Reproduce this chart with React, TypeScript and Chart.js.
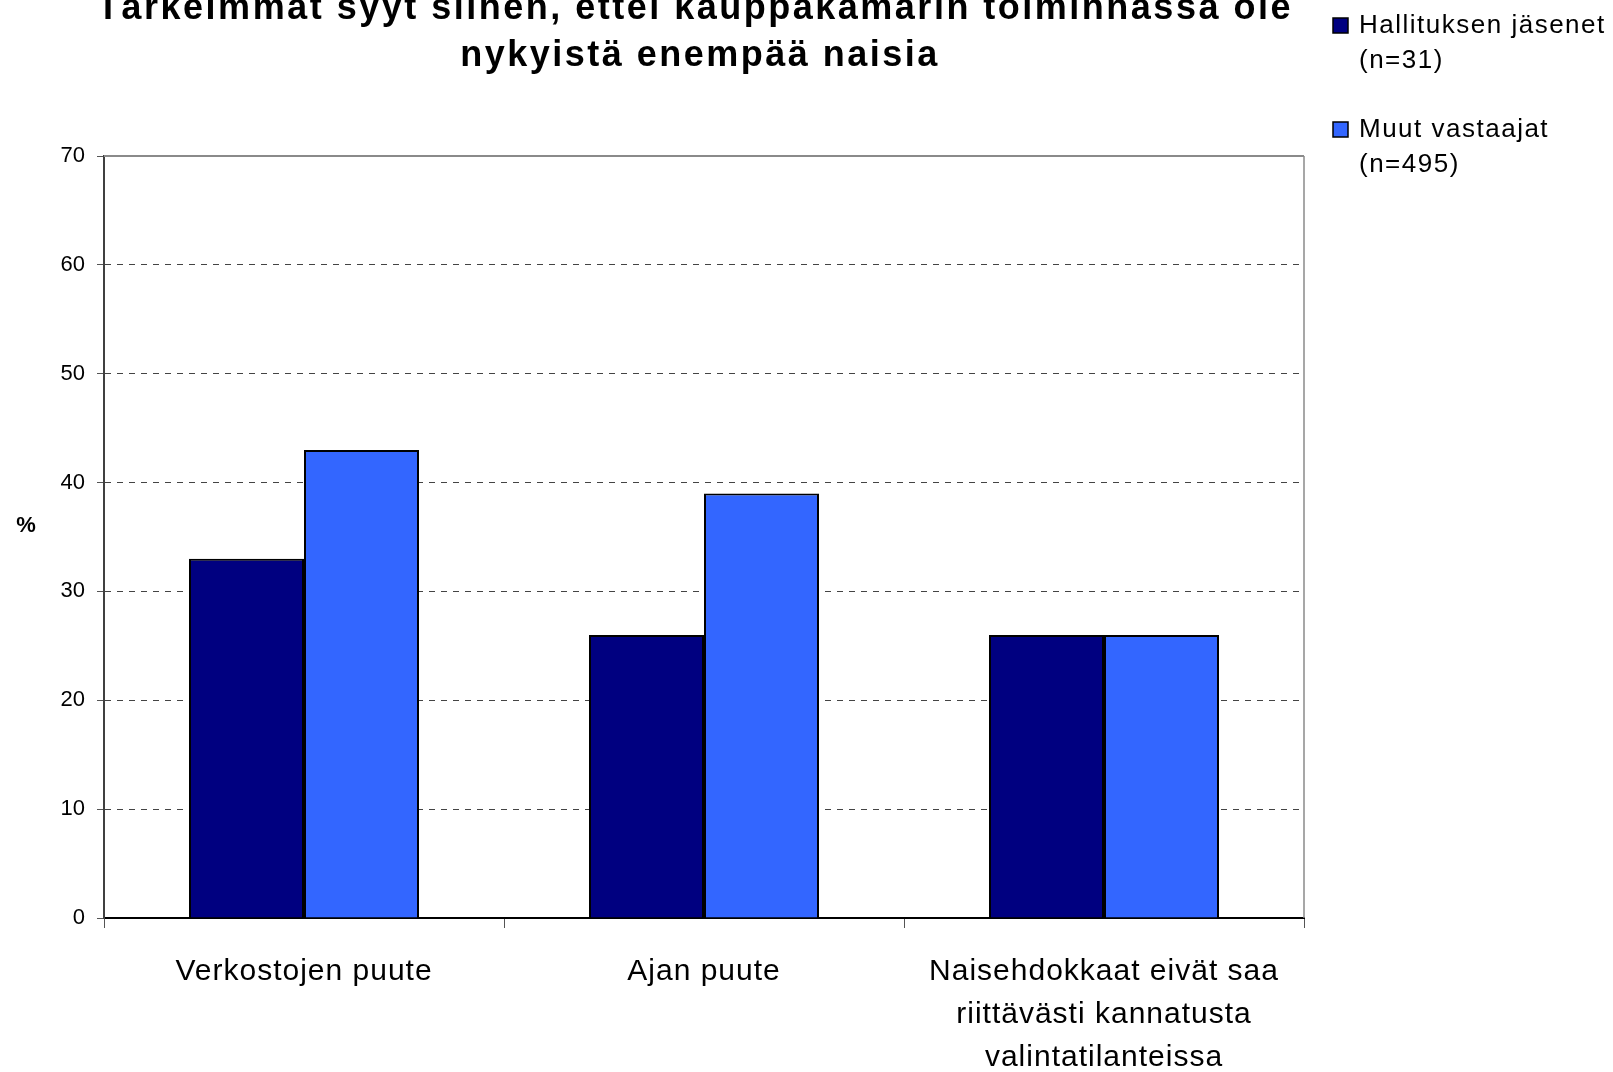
import React, { useEffect, useRef } from "react";
import { Chart, registerables } from "chart.js";

Chart.register(...registerables);

const TITLE_LINES = [
  "Tärkeimmät syyt siihen, ettei kauppakamarin toiminnassa ole",
  "nykyistä enempää naisia",
];
const CATEGORIES: (string | string[])[] = [
  "Verkostojen puute",
  "Ajan puute",
  ["Naisehdokkaat eivät saa", "riittävästi kannatusta", "valintatilanteissa"],
];
const SERIES_NAMES = [
  ["Hallituksen jäsenet", "(n=31)"],
  ["Muut vastaajat", "(n=495)"],
];
const HALLITUS = [33, 26, 26];
const MUUT = [43, 39, 26];
const COLORS = ["#000080", "#3366FF"];
const Y_MIN = 0;
const Y_MAX = 70;
const Y_STEP = 10;
const Y_LABEL = "%";

const FONT = '"Liberation Sans", Arial, sans-serif';

const overlay = {
  id: "overlay",
  beforeDraw(chart: any) {
    chart.ctx.letterSpacing = "0px";
  },
  beforeDatasetsDraw(chart: any) {
    const { ctx, chartArea } = chart;
    ctx.save();
    ctx.strokeStyle = "#8a8a8a";
    ctx.lineWidth = 2;
    ctx.beginPath();
    ctx.moveTo(chartArea.left, chartArea.top);
    ctx.lineTo(chartArea.right, chartArea.top);
    ctx.stroke();
    ctx.lineWidth = 1.5;
    ctx.beginPath();
    ctx.moveTo(chartArea.right, chartArea.top);
    ctx.lineTo(chartArea.right, chartArea.bottom);
    ctx.stroke();
    ctx.restore();
    // x tick labels (drawn after datasets) get a slight letter spacing
    ctx.letterSpacing = "1px";
  },
  afterDraw(chart: any) {
    const { ctx, chartArea } = chart;
    ctx.save();
    // title
    ctx.fillStyle = "#000";
    ctx.textAlign = "center";
    ctx.textBaseline = "alphabetic";
    ctx.font = `bold 36px ${FONT}`;
    (ctx as any).letterSpacing = "2.5px";
    const cx = (chartArea.left + chartArea.right) / 2;
    const offs = [-9, -4];
    TITLE_LINES.forEach((t, i) => ctx.fillText(t, cx + offs[i], 19 + i * 47));

    // y axis label
    ctx.font = `bold 22px ${FONT}`;
    (ctx as any).letterSpacing = "0px";
    ctx.textBaseline = "middle";
    ctx.fillText(Y_LABEL, 26, 526);

    // legend
    ctx.textAlign = "left";
    ctx.textBaseline = "alphabetic";
    ctx.font = `26px ${FONT}`;
    (ctx as any).letterSpacing = "1.5px";
    const lx = chartArea.right + 29;
    chart.data.datasets.forEach((ds: any, i: number) => {
      const base = 33 + i * 104;
      ctx.fillStyle = ds.backgroundColor;
      ctx.fillRect(lx, base - 15, 15, 15);
      ctx.strokeStyle = "#000";
      ctx.lineWidth = 1.5;
      ctx.strokeRect(lx, base - 15, 15, 15);
      ctx.fillStyle = "#000";
      SERIES_NAMES[i].forEach((line, j) => ctx.fillText(line, lx + 26, base + j * 35));
    });
    ctx.restore();
  },
};

export default function App() {
  const ref = useRef<HTMLCanvasElement>(null);
  useEffect(() => {
    if (!ref.current) return;
    const chart = new Chart(ref.current, {
      type: "bar",
      data: {
        labels: CATEGORIES as any,
        datasets: [
          {
            label: SERIES_NAMES[0].join(" "),
            data: HALLITUS,
            backgroundColor: COLORS[0],
            borderColor: "#000",
            borderWidth: 2,
            categoryPercentage: 0.575,
            barPercentage: 1,
          },
          {
            label: SERIES_NAMES[1].join(" "),
            data: MUUT,
            backgroundColor: COLORS[1],
            borderColor: "#000",
            borderWidth: 2,
            categoryPercentage: 0.575,
            barPercentage: 1,
          },
        ],
      },
      options: {
        animation: false,
        responsive: false,
        layout: { padding: { left: 0, right: 309, top: 156, bottom: 0 } },
        plugins: {
          legend: { display: false },
          title: { display: false },
          tooltip: { enabled: false },
        },
        scales: {
          x: {
            offset: true,
            grid: {
              offset: true,
              drawOnChartArea: false,
              drawTicks: true,
              tickLength: 10,
              tickColor: "#555",
              tickWidth: 1,
            },
            border: { display: true, color: "#000", width: 2 },
            ticks: {
              z: 1,
              color: "#000",
              font: { family: FONT, size: 30, lineHeight: 43 / 30 },
              padding: 22,
              autoSkip: false,
              maxRotation: 0,
              minRotation: 0,
            },
            afterFit: (s: any) => {
              s.height = 154;
            },
          },
          y: {
            min: Y_MIN,
            max: Y_MAX,
            ticks: {
              z: 0,
              stepSize: Y_STEP,
              color: "#000",
              font: { family: FONT, size: 22 },
              padding: 12,
            },
            grid: {
              color: (c: any) =>
                c.tick && (c.tick.value === Y_MAX || c.tick.value === Y_MIN)
                  ? "rgba(0,0,0,0)"
                  : "#444",
              lineWidth: 1,
              drawTicks: true,
              tickLength: 7,
              tickColor: "#555",
              tickWidth: 1,
              tickBorderDash: [],
            },
            border: { display: true, color: "#404040", width: 2, dash: [6, 6] },
            afterFit: (s: any) => {
              s.width = 104;
            },
          },
        },
      },
      plugins: [overlay],
    });
    return () => chart.destroy();
  }, []);
  return (
    <div style={{ position: "absolute", left: 0, top: 0, width: 1613, height: 1072, background: "#fff" }}>
      <canvas ref={ref} width={1613} height={1072} style={{ display: "block" }} />
    </div>
  );
}
